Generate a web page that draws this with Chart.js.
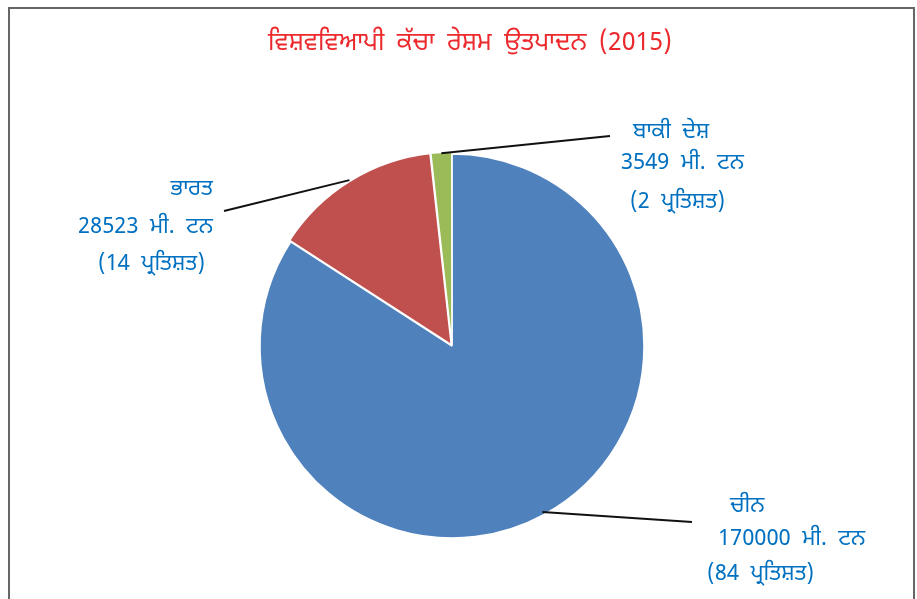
<!DOCTYPE html>
<html>
<head>
<meta charset="utf-8">
<script src="https://cdn.jsdelivr.net/npm/chart.js@4.4.1/dist/chart.umd.min.js"></script>
<style>
  html, body { margin: 0; padding: 0; background: #fff; }
  #wrap { width: 917px; height: 599px; position: relative; }
</style>
</head>
<body>
<div id="wrap"><canvas id="silkChart"></canvas></div>
<script>
// ਡਾਟਾ
const titleText = 'ਵਿਸ਼ਵਵਿਆਪੀ ਕੱਚਾ ਰੇਸ਼ਮ ਉਤਪਾਦਨ (2015)';
const countries = ['ਚੀਨ', 'ਭਾਰਤ', 'ਬਾਕੀ  ਦੇਸ਼'];
const tonnes = [170000, 28523, 3549];
const percents = [84, 14, 2];
const unitText = 'ਮੀ.  ਟਨ';
const percentWord = 'ਪ੍ਰਤਿਸ਼ਤ';
const sliceColors = ['#4F81BD', '#C0504D', '#9BBB59'];

// label placement: end of leader line and x/y of each text line
const leaderEnds = [[692, 522], [224, 211], [610, 136]];
const labelLines = [
    { xs: [730, 718, 707], ys: [508, 541, 576] },
    { xs: [213, 213, 205], ys: [191, 229, 266], align: 'right' },
    { xs: [633, 621, 630], ys: [134, 165, 204] }
];

const FONT = '"Noto Sans Gurmukhi", "Lohit Gurmukhi", "Noto Sans", "Lato", sans-serif';

const labelPlugin = {
    id: 'labelPlugin',
    beforeDraw(chart) {
        const ctx = chart.ctx;
        ctx.save();
        ctx.fillStyle = '#fff';
        ctx.fillRect(0, 0, chart.width, chart.height);
        // frame
        ctx.strokeStyle = '#666';
        ctx.lineWidth = 2;
        ctx.beginPath();
        ctx.moveTo(9, chart.height + 2);
        ctx.lineTo(9, 8);
        ctx.lineTo(914, 8);
        ctx.lineTo(914, chart.height + 2);
        ctx.stroke();
        // title
        ctx.fillStyle = '#EC2A2E';
        ctx.font = '25px ' + FONT;
        ctx.textAlign = 'center';
        ctx.textBaseline = 'middle';
        ctx.wordSpacing = '6px';
        ctx.fillText(titleText, 470, 45);
        ctx.wordSpacing = '0px';
        ctx.restore();
    },
    afterDraw(chart) {
        const ctx = chart.ctx;
        const meta = chart.getDatasetMeta(0);
        ctx.save();
        meta.data.forEach((arc, i) => {
            const p = arc.getProps(['x', 'y', 'startAngle', 'endAngle', 'outerRadius'], true);
            const mid = (p.startAngle + p.endAngle) / 2;
            const off = chart.data.datasets[0].offset[i] || 0;
            const r = p.outerRadius + off - 3;
            const sx = p.x + Math.cos(mid) * r;
            const sy = p.y + Math.sin(mid) * r;
            ctx.strokeStyle = '#111';
            ctx.lineWidth = 2;
            ctx.beginPath();
            ctx.moveTo(sx, sy);
            ctx.lineTo(leaderEnds[i][0], leaderEnds[i][1]);
            ctx.stroke();

            const lines = [countries[i], tonnes[i] + '  ' + unitText, '(' + percents[i] + '  ' + percentWord + ')'];
            const L = labelLines[i];
            ctx.fillStyle = '#0070C0';
            ctx.font = '22px ' + FONT;
            ctx.textBaseline = 'middle';
            ctx.textAlign = L.align || 'left';
            lines.forEach((t, k) => ctx.fillText(t, L.xs[k], L.ys[k]));
        });
        ctx.restore();
    }
};

new Chart(document.getElementById('silkChart'), {
    type: 'pie',
    data: {
        labels: countries,
        datasets: [{
            data: tonnes,
            backgroundColor: sliceColors,
            borderColor: '#ffffff',
            borderWidth: 1.5,
            offset: [0, 6, 4]
        }]
    },
    options: {
        responsive: true,
        maintainAspectRatio: false,
        animation: false,
        radius: 192,
        layout: { padding: { left: 0, right: 13, top: 93, bottom: 0 } },
        plugins: {
            legend: { display: false },
            title: { display: false },
            tooltip: { enabled: false }
        }
    },
    plugins: [labelPlugin]
});
</script>
</body>
</html>
